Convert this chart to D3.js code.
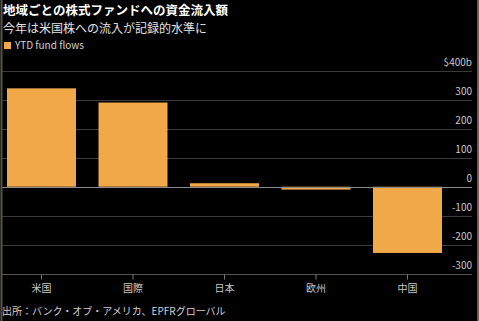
<!DOCTYPE html>
<html>
<head>
<meta charset="utf-8">
<script src="https://cdn.jsdelivr.net/npm/d3@7"></script>
<style>
  html, body { margin: 0; padding: 0; background: #000; }
  svg { display: block; }
  text { font-family: "Noto Sans CJK JP", "Noto Sans", sans-serif; }
</style>
</head>
<body>
<div id="chart"></div>
<script>
var regions = ["米国", "国際", "日本", "欧州", "中国"];
var flows = [340, 291, 12, -10, -229];
var yTicks = [400, 300, 200, 100, 0, -100, -200, -300];

var width = 479, height = 321;

var svg = d3.select("#chart")
    .append("svg")
    .attr("width", width)
    .attr("height", height);

svg.append("rect")
    .attr("width", width)
    .attr("height", height)
    .attr("fill", "#000");

// x range
var x = d3.scaleBand()
    .domain(regions)
    .range([7, 442])
    .paddingInner(0.246)
    .paddingOuter(0);

// y range
var y = d3.scaleLinear()
    .domain([-300, 400])
    .range([273.5, 71]);

// gridlines
svg.append("g")
    .selectAll("line")
    .data(yTicks)
    .enter()
    .append("line")
    .attr("x1", 2)
    .attr("x2", 472)
    .attr("y1", function (d) { return Math.round(y(d)) + 0.5; })
    .attr("y2", function (d) { return Math.round(y(d)) + 0.5; })
    .attr("stroke", function (d) { return d === -300 ? "#555" : "#3a3a3a"; })
    .attr("stroke-width", 1);

// tick labels
svg.append("g")
    .selectAll("text")
    .data(yTicks)
    .enter()
    .append("text")
    .attr("x", 472)
    .attr("y", function (d) { return y(d) - 5; })
    .attr("text-anchor", "end")
    .attr("fill", "#c8c8c8")
    .style("font-size", "10px")
    .text(function (d) { return d === 400 ? "$400b" : d; });

// bars
svg.append("g")
    .selectAll("rect")
    .data(flows)
    .enter()
    .append("rect")
    .attr("x", function (d, i) { return x(regions[i]); })
    .attr("width", x.bandwidth())
    .attr("y", function (d) { return y(Math.max(d, 0)); })
    .attr("height", function (d) { return Math.abs(y(d) - y(0)); })
    .attr("fill", "#f0a848");

// zero line
svg.append("line")
    .attr("x1", 2)
    .attr("x2", 472)
    .attr("y1", Math.round(y(0)) + 0.5)
    .attr("y2", Math.round(y(0)) + 0.5)
    .attr("stroke", "#8a8a8a");

// x axis
var xAxis = svg.append("g")
    .attr("transform", "translate(0," + (Math.round(y(-300)) + 0.5) + ")")
    .call(d3.axisBottom(x).tickSize(5).tickSizeOuter(0));
xAxis.select(".domain").remove();
xAxis.selectAll(".tick line").attr("stroke", "#777");
xAxis.selectAll(".tick text")
    .attr("fill", "#c8c8c8")
    .attr("dy", "0.9em")
    .style("font-size", "10px")
    .style("font-family", "Noto Sans CJK JP, sans-serif");

// frame lines
svg.append("line").attr("x1", 1.5).attr("x2", 1.5).attr("y1", 0).attr("y2", height)
    .attr("stroke", "#5a5246").attr("stroke-width", 2);
svg.append("line").attr("x1", 478).attr("x2", 478).attr("y1", 0).attr("y2", height)
    .attr("stroke", "#6a6256").attr("stroke-width", 2);

// title, subtitle
svg.append("text")
    .attr("x", 3).attr("y", 14.5)
    .attr("fill", "#fff")
    .style("font-size", "12.5px")
    .style("font-weight", "bold")
    .text("地域ごとの株式ファンドへの資金流入額");

svg.append("text")
    .attr("x", 3).attr("y", 32.5)
    .attr("fill", "#e0e0e0")
    .style("font-size", "12px")
    .text("今年は米国株への流入が記録的水準に");

// legend
svg.append("rect")
    .attr("x", 4).attr("y", 42)
    .attr("width", 7).attr("height", 7)
    .attr("fill", "#f0a848");
svg.append("text")
    .attr("x", 15).attr("y", 49)
    .attr("fill", "#d0d0d0")
    .style("font-size", "10px")
    .text("YTD fund flows");

// source
svg.append("text")
    .attr("x", 2).attr("y", 315)
    .attr("fill", "#d0d0d0")
    .style("font-size", "10px")
    .text("出所：バンク・オブ・アメリカ、EPFRグローバル");
</script>
</body>
</html>
